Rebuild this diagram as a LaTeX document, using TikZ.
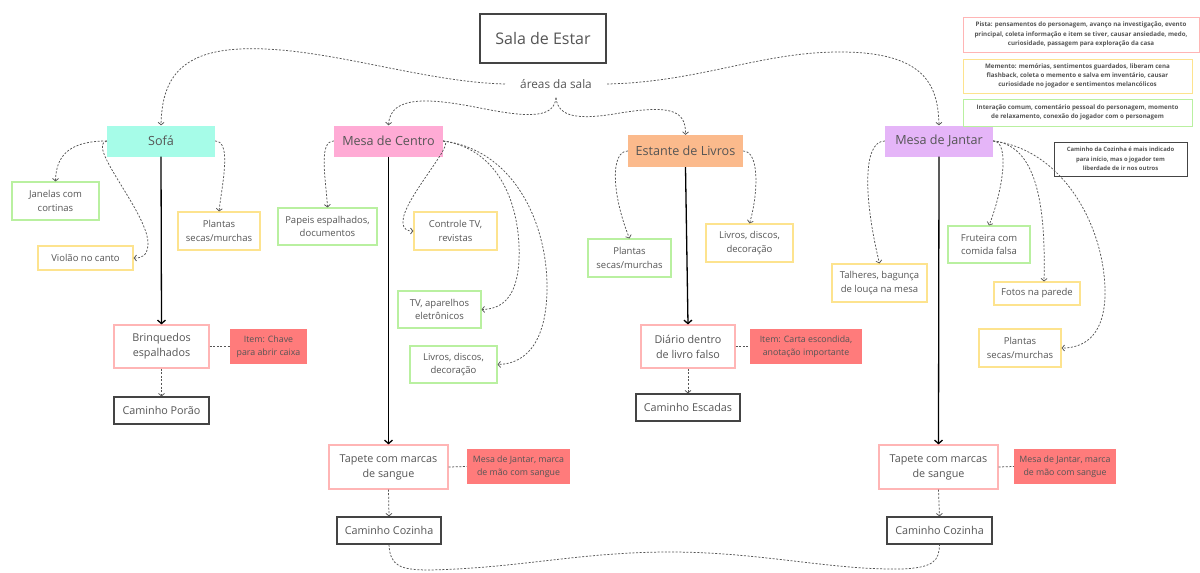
\documentclass[tikz,border=0pt]{standalone}
\usepackage{fontspec}
\setmainfont{Open Sans}
\usetikzlibrary{arrows.meta}
\definecolor{txt}{HTML}{555555}
\definecolor{cline}{HTML}{555555}
\definecolor{cmint}{HTML}{A6FCE8}
\definecolor{cpink}{HTML}{FFABD5}
\definecolor{corange}{HTML}{FBBA8C}
\definecolor{clav}{HTML}{E5B5F8}
\definecolor{cgreen}{HTML}{B9F0A0}
\definecolor{cyellow}{HTML}{FDE38E}
\definecolor{cstory}{HTML}{FFB5B5}
\definecolor{citem}{HTML}{FF7B7B}
\definecolor{cdark}{HTML}{444444}
\tikzset{
  base/.style={rectangle, inner sep=0pt, align=center, text=txt},
  sz/.style n args={2}{minimum width=#1pt, minimum height=#2pt},
  area/.style={base, font=\fontsize{12.6}{15}\selectfont},
  leaf/.style={base, line width=1.1pt, font=\fontsize{9.5}{13.3}\selectfont},
  gleaf/.style={leaf, draw=cgreen},
  yleaf/.style={leaf, draw=cyellow},
  story/.style={base, draw=cstory, line width=1.1pt, font=\fontsize{10.8}{15}\selectfont},
  itembox/.style={base, fill=citem, font=\fontsize{8.8}{12.5}\selectfont},
  pathbox/.style={base, draw=cdark, line width=1.2pt, font=\fontsize{10.8}{15}\selectfont},
  legend/.style={base, line width=0.9pt, font=\fontsize{6.2}{9.3}\selectfont\bfseries},
  dl/.style={draw=cline, line width=0.75pt, dash pattern=on 2pt off 1.6pt},
  da/.style={dl, -{Straight Barb[length=2.5pt,width=6pt]}},
  sa/.style={draw=black, line width=1.3pt, -{Straight Barb[length=3.5pt,width=8pt]}},
}
\begin{document}
\begin{tikzpicture}[x=1pt,y=-1pt]
\useasboundingbox (0,0) rectangle (1200,573);
\fill[white] (0,0) rectangle (1200,573);

% title
\node[base, draw=cdark, line width=1.2pt, sz={126}{49}, font=\fontsize{16}{19}\selectfont] (title) at (543,38.5) {Sala de Estar};
\node[base, inner xsep=15pt, inner ysep=9pt, font=\fontsize{11.8}{14}\selectfont] (are) at (556,84) {áreas da sala};

% areas
\node[area, fill=cmint, sz={108}{31}] (sofa) at (161,141) {Sofá};
\node[area, fill=cpink, sz={109}{31}] (mc) at (388.5,141) {Mesa de Centro};
\node[area, fill=corange, sz={115}{32}] (est) at (685.5,151) {Estante de Livros};
\node[area, fill=clav, sz={108}{31}] (mj) at (939,141) {Mesa de Jantar};

% sofa children
\node[gleaf, sz={87}{38}] (jan) at (55.5,201) {Janelas com\\cortinas};
\node[yleaf, sz={95}{24}] (vio) at (85.5,258) {Violão no canto};
\node[yleaf, sz={82}{38}] (plS) at (219,231) {Plantas\\secas/murchas};
\node[story, sz={95}{43}] (brin) at (161.5,346.5) {Brinquedos\\espalhados};
\node[itembox, sz={77}{35}] (it1) at (268.5,346.5) {Item: Chave\\para abrir caixa};
\node[pathbox, sz={95}{27}] (porao) at (161.5,410.5) {Caminho Porão};

% mesa de centro children
\node[gleaf, sz={99}{37}] (pap) at (327.5,226.5) {Papeis espalhados,\\documentos};
\node[yleaf, sz={83}{38}] (ctv) at (455.5,231) {Controle TV,\\revistas};
\node[gleaf, sz={83}{37}] (tv) at (439.5,309.5) {TV, aparelhos\\eletrônicos};
\node[gleaf, sz={87}{37}] (livC) at (453.5,364.5) {Livros, discos,\\decoração};
\node[story, sz={119}{44}] (tap1) at (388.5,467) {Tapete com marcas\\de sangue};
\node[itembox, sz={103}{35}] (it2) at (518.5,466.5) {Mesa de Jantar, marca\\de mão com sangue};
\node[pathbox, sz={104}{27}] (cc1) at (389,530.5) {Caminho Cozinha};

% estante children
\node[gleaf, sz={83}{38}] (plE) at (629.5,258) {Plantas\\secas/murchas};
\node[yleaf, sz={87}{38}] (livE) at (749.5,243) {Livros, discos,\\decoração};
\node[story, sz={94}{43}] (dia) at (688,346.5) {Diário dentro\\de livro falso};
\node[itembox, sz={112}{35}] (it3) at (806,346.5) {Item: Carta escondida,\\anotação importante};
\node[pathbox, sz={104}{27}] (esc) at (688,407.5) {Caminho Escadas};

% mesa de jantar children
\node[yleaf, sz={95}{38}] (tal) at (879.5,283) {Talheres, bagunça\\de louça na mesa};
\node[gleaf, sz={82}{37}] (fru) at (989,244.5) {Fruteira com\\comida falsa};
\node[yleaf, sz={86}{23}] (fot) at (1037,293.5) {Fotos na parede};
\node[yleaf, sz={82}{38}] (plJ) at (1020,348) {Plantas\\secas/murchas};
\node[story, sz={119}{44}] (tap2) at (938.5,467) {Tapete com marcas\\de sangue};
\node[itembox, sz={102}{35}] (it4) at (1065,466.5) {Mesa de Jantar, marca\\de mão com sangue};
\node[pathbox, sz={105}{27}] (cc2) at (939.5,530.5) {Caminho Cozinha};

% legend
\node[legend, draw=cstory, sz={236}{35}] (lg1) at (1081,34.5) {Pista: pensamentos do personagem, avanço na investigação, evento\\principal, coleta informação e item se tiver, causar ansiedade, medo,\\curiosidade, passagem para exploração da casa};
\node[legend, draw=cyellow, sz={229}{34}] (lg2) at (1077.5,76) {Memento: memórias, sentimentos guardados, liberam cena\\flashback, coleta o memento e salva em inventário, causar\\curiosidade no jogador e sentimentos melancólicos};
\node[legend, draw=cgreen, sz={229}{27}] (lg3) at (1077.5,112.5) {Interação comum, comentário pessoal do personagem, momento\\de relaxamento, conexão do jogador com o personagem};
\node[legend, draw=cdark, sz={133}{34}, font=\fontsize{5.9}{9.3}\selectfont\bfseries] (note) at (1120.5,159) {Caminho da Cozinha é mais indicado\\para início, mas o jogador tem\\liberdade de ir nos outros};

% top connectors
\draw[da] (are.west) .. controls (420,82) and (320,45) .. (240,49) .. controls (175,52) and (162,85) .. (sofa.north);
\draw[da] (are.east) .. controls (700,82) and (760,52) .. (840,52) .. controls (925,52) and (938,85) .. (mj.north);
\draw[da] (are.south) .. controls (554,118) and (530,118) .. (480,108) .. controls (430,98) and (390,95) .. (mc.north);
\draw[da] (are.south) .. controls (558,118) and (580,120) .. (620,113) .. controls (670,105) and (686,110) .. (est.north);

% sofa connectors
\draw[da] (sofa.west) .. controls (70,141) and (56,155) .. (jan.north);
\draw[da] (sofa.west) .. controls (85,145) and (150,215) .. (148,245) .. controls (147,256) and (142,258) .. (vio.east);
\draw[da] (sofa.east) .. controls (232,141) and (222,185) .. (plS.north);
\draw[sa] (sofa.south) -- (brin.north);
\draw[dl] (brin.east) -- (it1.west);
\draw[da] (brin.south) -- (porao.north);

% mesa de centro connectors
\draw[da] (mc.west) .. controls (318,141) and (326,180) .. (pap.north);
\draw[da] (mc.east) .. controls (458,141) and (402,200) .. (403,222) .. controls (403,230) and (408,231) .. (ctv.west);
\draw[da] (mc.east) .. controls (505,150) and (521,215) .. (519,260) .. controls (517,300) and (500,309) .. (tv.east);
\draw[da] (mc.east) .. controls (515,150) and (548,225) .. (547,290) .. controls (546,350) and (520,364) .. (livC.east);
\draw[sa] (mc.south) -- (tap1.north);
\draw[dl] (tap1.east) -- (it2.west);
\draw[da] (tap1.south) -- (cc1.north);

% estante connectors
\draw[da] (est.west) .. controls (610,151) and (612,195) .. (plE.north);
\draw[da] (est.east) .. controls (760,151) and (758,195) .. (livE.north);
\draw[sa] (est.south) -- (dia.north);
\draw[dl] (dia.east) -- (it3.west);
\draw[da] (dia.south) -- (esc.north);

% mesa de jantar connectors
\draw[da] (mj.west) .. controls (862,141) and (864,200) .. (tal.north);
\draw[da] (mj.east) .. controls (1010,141) and (1003,190) .. (fru.north);
\draw[da] (mj.east) .. controls (1035,145) and (1046,200) .. ([xshift=7pt]fot.north);
\draw[da] (mj.east) .. controls (1065,150) and (1106,230) .. (1105,295) .. controls (1104,340) and (1080,348) .. (plJ.east);
\draw[sa] (mj.south) -- (tap2.north);
\draw[dl] (tap2.east) -- (it4.west);
\draw[da] (tap2.south) -- (cc2.north);

% bottom link
\draw[dl] (cc1.south) .. controls (390,566) and (400,570) .. (430,570) .. controls (520,568) and (580,552) .. (670,552) .. controls (760,552) and (830,570) .. (900,569) .. controls (935,568) and (939,560) .. (cc2.south);
\end{tikzpicture}
\end{document}
